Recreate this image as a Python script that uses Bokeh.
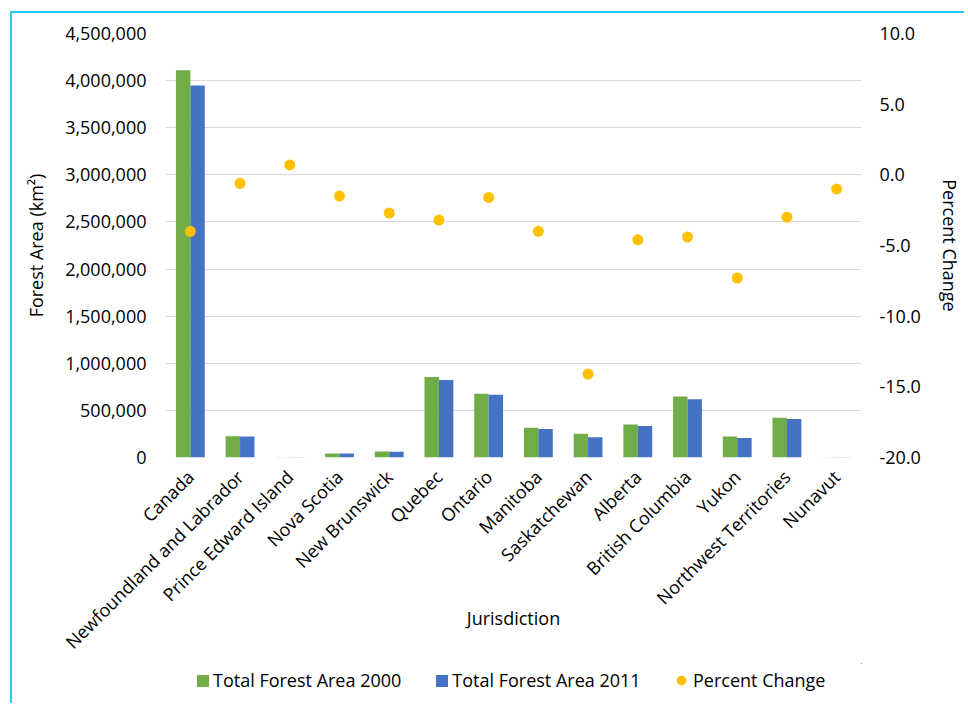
import math
from bokeh.plotting import figure
from bokeh.layouts import column
from bokeh.models import (Range1d, LinearAxis, FactorRange, Legend, LegendItem,
                          NumeralTickFormatter, FixedTicker, ColumnDataSource)
from bokeh.transform import dodge
from bokeh.embed import file_html
from bokeh.resources import INLINE

jurisdictions = ["Canada", "Newfoundland and Labrador", "Prince Edward Island",
                 "Nova Scotia", "New Brunswick", "Quebec", "Ontario", "Manitoba",
                 "Saskatchewan", "Alberta", "British Columbia", "Yukon",
                 "Northwest Territories", "Nunavut"]
area_2000 = [4110000, 225000, 2700, 42000, 63000, 854000, 677000, 315000,
             252000, 350000, 647000, 223000, 421000, 1500]
area_2011 = [3947000, 224000, 2700, 41400, 61300, 823000, 666000, 302000,
             216000, 334000, 618000, 207000, 408000, 1500]
percent_change = [-4.0, -0.6, 0.7, -1.5, -2.7, -3.2, -1.6, -4.0, -14.1,
                  -4.6, -4.4, -7.3, -3.0, -1.0]
left_ticks = [0, 500000, 1000000, 1500000, 2000000, 2500000, 3000000,
              3500000, 4000000, 4500000]
right_ticks = [-20, -15, -10, -5, 0, 5, 10]

FONT = "Open Sans"
FS = "18px"
TXT = "#000000"
GREEN, BLUE, GOLD = "#70AD47", "#4472C4", "#FFC000"

src = ColumnDataSource(dict(cat=jurisdictions, a2000=area_2000,
                            a2011=area_2011, pct=percent_change))

# ---------------- main chart ----------------
p = figure(x_range=FactorRange(*jurisdictions), y_range=Range1d(0, 4500000),
           width=952, height=650, output_backend="svg", toolbar_location=None,
           min_border_left=153, min_border_right=102, min_border_top=20,
           min_border_bottom=206)
p.outline_line_color = None
p.background_fill_color = "white"
p.border_fill_color = "white"

p.extra_y_ranges = {"pct": Range1d(-20, 10)}

p.xgrid.grid_line_color = None
p.ygrid.grid_line_color = "#d9d9d9"
p.ygrid.grid_line_width = 1
p.ygrid.ticker = FixedTicker(ticks=left_ticks)

ya = p.yaxis[0]
ya.ticker = FixedTicker(ticks=left_ticks)
ya.formatter = NumeralTickFormatter(format="0,0")
ya.axis_label = "Forest Area (km²)"

xa = p.xaxis[0]
xa.major_label_orientation = math.pi / 4
xa.axis_label = "Jurisdiction"

ra = LinearAxis(y_range_name="pct", ticker=FixedTicker(ticks=right_ticks),
                formatter=NumeralTickFormatter(format="0.0"),
                axis_label="Percent Change")
p.add_layout(ra, "right")

for ax in (xa, ya, ra):
    ax.axis_line_color = None
    ax.major_tick_line_color = None
    ax.minor_tick_line_color = None
    ax.major_tick_out = 0
    ax.major_tick_in = 0
    ax.minor_tick_out = 0
    ax.minor_tick_in = 0
    ax.major_label_text_font = FONT
    ax.major_label_text_font_size = FS
    ax.major_label_text_color = TXT
    ax.axis_label_text_font = FONT
    ax.axis_label_text_font_size = FS
    ax.axis_label_text_font_style = "normal"
    ax.axis_label_text_color = TXT
ya.major_label_standoff = 19
ya.axis_label_standoff = 14
ra.major_label_standoff = 18
ra.axis_label_standoff = 14
xa.major_label_standoff = 16
xa.axis_label_standoff = -59

p.vbar(x=dodge("cat", -0.145, range=p.x_range), top="a2000", width=0.29,
       source=src, fill_color=GREEN, line_color=None)
p.vbar(x=dodge("cat", 0.145, range=p.x_range), top="a2011", width=0.29,
       source=src, fill_color=BLUE, line_color=None)
p.scatter(x="cat", y="pct", y_range_name="pct", size=11, source=src,
          fill_color=GOLD, line_color=None)

# ---------------- legend strip ----------------
lg = figure(x_range=FactorRange(*jurisdictions), y_range=Range1d(-2e7, -1e7),
            width=952, height=40, output_backend="svg", toolbar_location=None,
            min_border=0, x_axis_location=None, y_axis_location=None)
lg.outline_line_color = None
lg.background_fill_color = "white"
lg.border_fill_color = "white"
lg.grid.visible = False
lg.xgrid.visible = False
lg.ygrid.visible = False
far = dodge("cat", 60, range=lg.x_range)
g1 = lg.vbar(x=far, top="a2000", width=0.29, source=src,
             fill_color=GREEN, line_color=None)
g2 = lg.vbar(x=far, top="a2011", width=0.29, source=src,
             fill_color=BLUE, line_color=None)
g3 = lg.scatter(x=far, y="a2000", size=11, source=src,
                fill_color=GOLD, line_color=None)

common = dict(orientation="horizontal", padding=0, margin=0,
              border_line_color=None, background_fill_alpha=0,
              label_text_font=FONT, label_text_font_size=FS,
              label_text_color=TXT)
legA = Legend(items=[LegendItem(label="Total Forest Area 2000", renderers=[g1]),
                     LegendItem(label="Total Forest Area 2011", renderers=[g2])],
              location=(30, 11), glyph_width=15, glyph_height=15,
              label_standoff=3, spacing=33, **common)
legB = Legend(items=[LegendItem(label="Percent Change", renderers=[g3])],
              location=(504, 11), glyph_width=24, glyph_height=24,
              label_standoff=0, **common)
lg.add_layout(legA)
lg.add_layout(legB)

layout = column(p, lg, spacing=0)
layout.styles = {"margin-left": "10px", "margin-top": "11px",
                 "border-left": "2px solid #29C5F6",
                 "border-top": "2px solid #29C5F6"}

open("out.html", "w").write(file_html(layout, INLINE))
